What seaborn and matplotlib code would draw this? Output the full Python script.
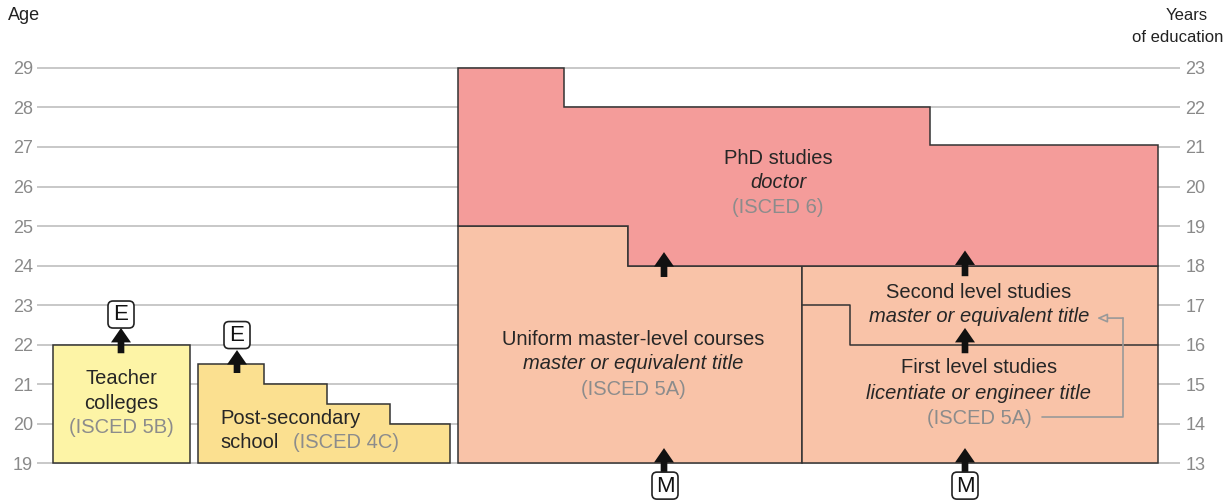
import matplotlib
matplotlib.use("Agg")
import matplotlib.pyplot as plt
from matplotlib.patches import FancyBboxPatch
import seaborn as sns

# age axis (left) and years of education (right, age - 6)
ages = list(range(19, 30))
years = list(range(13, 24))

# each programme as steps: x edges of the steps and the age on each step
teacher_x = [53, 190]
teacher_end = [22]
teacher_start = [19]

post_x = [198, 264, 327, 390, 450]
post_end = [21.5, 21, 20.5, 20]
post_start = [19, 19, 19, 19]

master_x = [458, 628, 802]
master_end = [25, 24]
master_start = [19, 19]

levels_x = [802, 1158]
levels_end = [24]
levels_start = [19]

phd_top_x = [458, 564, 930, 1158]
phd_end = [29, 28, 27.05]
phd_bottom_x = [458, 628, 1158]
phd_start = [25, 24]

# border between first and second level studies
split_x = [802, 850, 1158]
split_age = [23, 22]

# entry arrows: x, from age, to age
arrows = [(121, 21.78, 22.42), (237, 21.28, 21.86),
          (664, 23.71, 24.34), (965, 23.73, 24.38), (965, 21.78, 22.42),
          (664, 18.75, 19.38), (965, 18.75, 19.38)]
boxes = [("E", 121, 22.76), ("E", 237, 22.24), ("M", 665, 18.43), ("M", 965, 18.43)]

sns.set_theme(style="white")
plt.rcParams['font.family'] = ['Liberation Sans', 'DejaVu Sans']

fig = plt.figure(figsize=(12.26, 5.03), dpi=100)
ax = fig.add_axes([37 / 1226, 0, (1180 - 37) / 1226, 1])
ax.set_xlim(37, 1180)
ax.set_ylim(17.99, 30.72)
px_per_age = 39.5


def steps(xe, vals):
    xs, ys = [], []
    for i, v in enumerate(vals):
        xs += [xe[i], xe[i + 1]]
        ys += [v, v]
    return xs, ys


def block(xt, top, xb, bottom, color):
    tx, ty = steps(xt, top)
    bx, by = steps(xb, bottom)
    ax.fill(tx + bx[::-1], ty + by[::-1], fc=color, ec='#333333', lw=1.1,
            zorder=2, clip_on=False)


block(teacher_x, teacher_end, teacher_x, teacher_start, '#fdf4a6')
block(post_x, post_end, post_x, post_start, '#fbe090')
block(master_x, master_end, master_x, master_start, '#f9c3a8')
block(levels_x, levels_end, levels_x, levels_start, '#f9c3a8')
block(phd_top_x, phd_end, phd_bottom_x, phd_start, '#f49c9a')

sx, sy = steps(split_x, split_age)
ax.plot(sx, sy, color='#333333', lw=1.1, zorder=3)

for x, y0, y1 in arrows:
    ax.annotate('', xy=(x, y1), xytext=(x, y0), annotation_clip=False,
                arrowprops=dict(arrowstyle='simple,head_length=0.65,head_width=0.9,tail_width=0.3',
                                fc='#111111', ec='#111111', lw=0, shrinkA=0, shrinkB=0,
                                mutation_scale=16), zorder=5)

bw, bh = 26, 27
for letter, x, y in boxes:
    ax.add_patch(FancyBboxPatch((x - bw / 2, y - bh / 2 / px_per_age), bw, bh / px_per_age,
                                boxstyle='round,pad=0,rounding_size=5',
                                mutation_aspect=1 / px_per_age, fc='white', ec='#222222',
                                lw=1.2, zorder=6, clip_on=False))
    ax.text(x, y - 0.01, letter, ha='center', va='center', fontsize=16, color='#111111',
            zorder=7, clip_on=False)

# labels
fs = 14.5
grey = '#8c8c8c'
ax.text(121, 21.15, "Teacher", ha='center', va='center', fontsize=fs, zorder=4)
ax.text(121, 20.52, "colleges", ha='center', va='center', fontsize=fs, zorder=4)
ax.text(121, 19.91, "(ISCED 5B)", ha='center', va='center', fontsize=fs, color=grey, zorder=4)

ax.text(220, 20.14, "Post-secondary", ha='left', va='center', fontsize=fs, zorder=4)
ax.text(220, 19.51, "school", ha='left', va='center', fontsize=fs, zorder=4)
ax.text(293, 19.51, "(ISCED 4C)", ha='left', va='center', fontsize=fs, color=grey, zorder=4)

ax.text(778, 26.72, "PhD studies", ha='center', va='center', fontsize=fs, zorder=4)
ax.text(778, 26.09, "doctor", ha='center', va='center', fontsize=fs, style='italic', zorder=4)
ax.text(778, 25.48, "(ISCED 6)", ha='center', va='center', fontsize=fs, color=grey, zorder=4)

ax.text(633, 22.14, "Uniform master-level courses", ha='center', va='center', fontsize=fs, zorder=4)
ax.text(633, 21.51, "master or equivalent title", ha='center', va='center', fontsize=fs,
        style='italic', zorder=4)
ax.text(633, 20.87, "(ISCED 5A)", ha='center', va='center', fontsize=fs, color=grey, zorder=4)

ax.text(979, 23.33, "Second level studies", ha='center', va='center', fontsize=fs, zorder=4)
ax.text(979, 22.70, "master or equivalent title", ha='center', va='center', fontsize=fs,
        style='italic', zorder=4)
ax.text(979, 21.41, "First level studies", ha='center', va='center', fontsize=fs, zorder=4)
ax.text(979, 20.77, "licentiate or engineer title", ha='center', va='center', fontsize=fs,
        style='italic', zorder=4)
ax.text(979, 20.14, "(ISCED 5A)", ha='center', va='center', fontsize=fs, color=grey, zorder=4)

# leader from the ISCED label to the second level title
ax.plot([1042, 1123, 1123], [20.165, 20.165, 22.67], color='#999999', lw=1.2, zorder=4)
ax.annotate('', xy=(1097, 22.67), xytext=(1123, 22.67),
            arrowprops=dict(arrowstyle='-|>,head_length=0.5,head_width=0.22', color='#999999',
                            fc='#f9c3a8', lw=1.2, shrinkA=0, shrinkB=0), zorder=4)

# axes
ax.set_yticks(ages)
ax.set_xticks([])
ax.tick_params(axis='y', length=0, pad=3, labelcolor='#8a8a8a', labelsize=13)
ax.yaxis.grid(True, color='#c4c4c4', lw=1.3)
ax.set_axisbelow(True)
sns.despine(ax=ax, left=True, bottom=True)

ax2 = ax.twinx()
ax2.set_ylim(ax.get_ylim()[0] - 6, ax.get_ylim()[1] - 6)
ax2.set_yticks(years)
ax2.tick_params(axis='y', length=0, pad=4, labelcolor='#8a8a8a', labelsize=13)
ax2.grid(False)
for s in ax2.spines.values():
    s.set_visible(False)

fig.text(8 / 1226, 1 - 16 / 503, "Age", ha='left', va='center', fontsize=13, color='#222222')
fig.text(1166 / 1226, 1 - 15 / 503, "Years", ha='left', va='center', fontsize=12, color='#222222')
fig.text(1223 / 1226, 1 - 38 / 503, "of education", ha='right', va='center', fontsize=12,
         color='#222222')

fig.savefig("out.png", dpi=100)
